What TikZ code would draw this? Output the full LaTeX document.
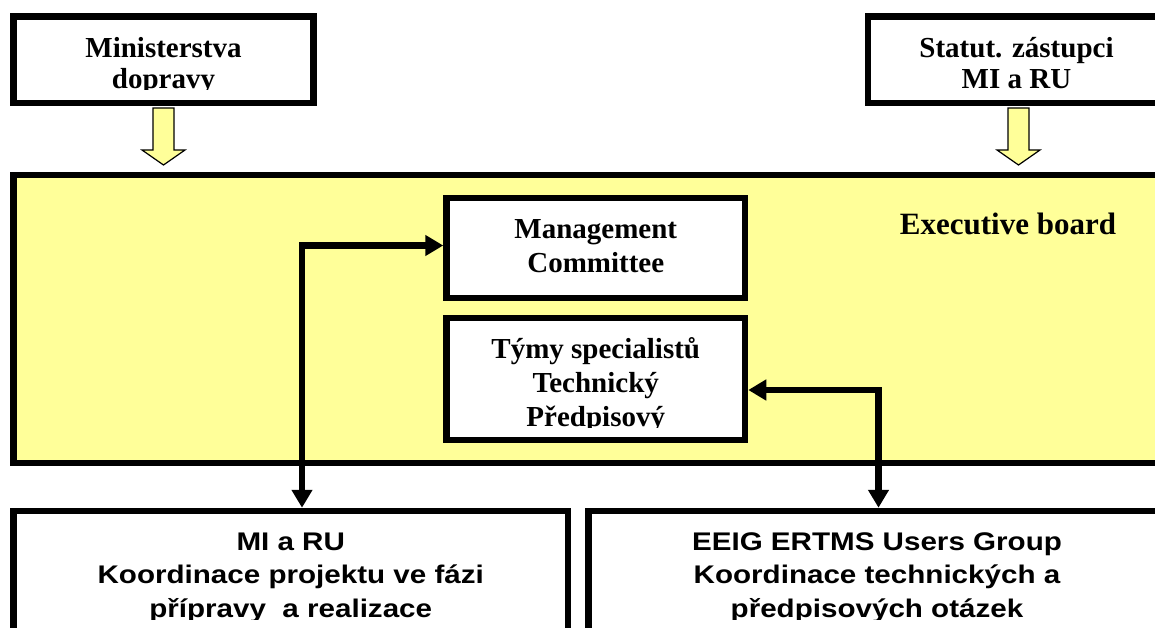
\documentclass[tikz,border=0pt]{standalone}
\usepackage{fontspec}
\setmainfont{Liberation Serif}
\newfontfamily\arialb[FakeStretch=1.16]{Liberation Sans}
\usetikzlibrary{arrows.meta}
\definecolor{ylw}{RGB}{255,255,153}
\begin{document}
\begin{tikzpicture}[x=1pt,y=-1pt,
  box/.style={draw=black, line width=6.5pt, fill=white, inner sep=0pt},
  ser/.style={font=\fontsize{29}{33}\selectfont\bfseries, inner sep=0pt, anchor=base},
  san/.style={font=\arialb\fontsize{25.5}{30}\selectfont\bfseries, inner sep=0pt, anchor=base},
  conn/.style={line width=6.5pt, line join=miter, {Triangle[length=18pt,width=20pt]}-{Triangle[length=18pt,width=20pt]}},
  blockarrow/.style={fill=ylw, draw=black, line width=1.2pt, line join=miter}]
\useasboundingbox (0,0) rectangle (1155,628);
\clip (0,0) rectangle (1155,628);
\fill[white] (0,0) rectangle (1155,628);

% top boxes
\node[box, minimum width=300pt, minimum height=86.5pt] (min) at (163.5,59.75) {};
\node[box, minimum width=297pt, minimum height=86.5pt] (stat) at (1016.5,59.75) {};

% executive board
\node[box, fill=ylw, minimum width=1156.5pt, minimum height=288pt] (exec) at (591.75,319) {};
\node[ser, font=\fontsize{31}{35}\selectfont\bfseries] (execlbl) at (1008,235) {Executive board};

% inner boxes
\node[box, minimum width=298.5pt, minimum height=100pt] (mgmt) at (595.75,248) {};
\node[box, minimum width=298.5pt, minimum height=122pt] (tymy) at (595.75,379) {};

% bottom boxes
\node[box, minimum width=554.5pt, minimum height=139pt] (mi) at (290.75,580.5) {};
\node[box, minimum width=581.5pt, minimum height=139pt] (eeig) at (879.25,580.5) {};

% yellow block arrows
\draw[blockarrow] (153,108) -- (174,108) -- (174,150) -- (185,150) -- (163.5,165) -- (142,150) -- (153,150) -- cycle;
\draw[blockarrow] (1008,108) -- (1029,108) -- (1029,150) -- (1040,150) -- (1018.5,165) -- (997,150) -- (1008,150) -- cycle;

% texts (clipped as in the reference text frames)
\begin{scope}
\clip (17,20) rectangle (310,89.5);
\node[ser] (tmin1) at (163.5,58) {Ministerstva};
\node[ser] (tmin2) at (163.5,89) {dopravy};
\end{scope}
\begin{scope}
\clip (871,20) rectangle (1160,89.5);
\node[ser] (tstat1) at (1016.5,58) {Statut. zástupci};
\node[ser] (tstat2) at (1016.5,89) {MI a RU};
\end{scope}
\node[ser] (tmg1) at (595.75,238) {Management};
\node[ser] (tmg2) at (595.75,272) {Committee};
\begin{scope}
\clip (450,322) rectangle (742,427);
\node[ser] (tty1) at (595.75,358) {Týmy specialistů};
\node[ser] (tty2) at (595.75,392) {Technický};
\node[ser] (tty3) at (595.75,426) {Předpisový};
\end{scope}
\begin{scope}
\clip (17,515) rectangle (564,619);
\node[san] (tmi1) at (290.75,550) {MI a RU};
\node[san] (tmi2) at (290.75,583) {Koordinace projektu ve fázi};
\node[san] (tmi3) at (290.75,617) {přípravy\ \ a realizace};
\end{scope}
\begin{scope}
\clip (592,515) rectangle (1160,619);
\node[san] (tee1) at (877,550) {EEIG ERTMS Users Group};
\node[san] (tee2) at (877,583) {Koordinace technických a};
\node[san] (tee3) at (877,617) {předpisových otázek};
\end{scope}

% connectors
\coordinate (c1) at (302,245.5);
\coordinate (c2) at (878.5,390);
\draw[conn] (mi.north -| c1) -- (c1) -- (mgmt.west |- c1);
\draw[conn] (tymy.east |- c2) -- (c2) -- (eeig.north -| c2);
\end{tikzpicture}
\end{document}
